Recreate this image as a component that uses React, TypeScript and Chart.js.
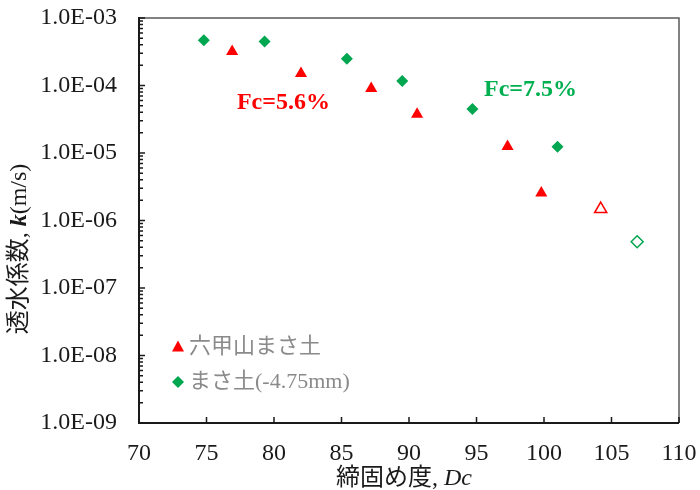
import React, { useEffect, useRef } from "react";
import { Chart, registerables } from "chart.js";

Chart.register(...registerables);

// ---- Data ----
const rokkoDc = [76.9, 82.0, 87.2, 90.6, 97.3, 99.8];
const rokkoK = [3.2e-4, 1.5e-4, 9.0e-5, 3.75e-5, 1.25e-5, 2.55e-6];
const rokkoOpenDc = [104.2];
const rokkoOpenK = [1.48e-6];
const masaDc = [74.8, 79.3, 85.4, 89.5, 94.7, 101.0];
const masaK = [4.7e-4, 4.5e-4, 2.5e-4, 1.17e-4, 4.5e-5, 1.24e-5];
const masaOpenDc = [106.9];
const masaOpenK = [4.85e-7];

const xTicks = [70, 75, 80, 85, 90, 95, 100, 105, 110];
const yDecades = [1e-9, 1e-8, 1e-7, 1e-6, 1e-5, 1e-4, 1e-3];

const legendLabels = ["六甲山まさ土", "まさ土(-4.75mm)"];
const annotations = [
  { text: "Fc=5.6%", x: 80.7, y: 5.5e-5, color: "#FF0000" },
  { text: "Fc=7.5%", x: 99.0, y: 8.6e-5, color: "#00B050" },
];

const RED = "#FF0000";
const GREEN = "#00A650";
const SERIF = "'Liberation Serif', 'Noto Sans CJK JP', serif";

const pts = (xs: number[], ys: number[]) => xs.map((x, i) => ({ x, y: ys[i] }));

const fmtE = (v: number) => {
  const e = Math.round(Math.log10(v));
  const sign = e < 0 ? "-" : "+";
  const a = Math.abs(e);
  return "1.0E" + sign + (a < 10 ? "0" + a : String(a));
};

function drawSegments(
  ctx: CanvasRenderingContext2D,
  segs: { t: string; f: string }[],
  cx: number,
  cy: number
) {
  let total = 0;
  const widths = segs.map((s) => {
    ctx.font = s.f;
    const w = ctx.measureText(s.t).width;
    total += w;
    return w;
  });
  let x = cx - total / 2;
  segs.forEach((s, i) => {
    ctx.font = s.f;
    ctx.fillText(s.t, x, cy);
    x += widths[i];
  });
}

const customPlugin = {
  id: "custom",
  afterDraw(chart: any) {
    const ctx: CanvasRenderingContext2D = chart.ctx;
    const { left, right, top, bottom } = chart.chartArea;
    const xs = chart.scales.x;
    const ys = chart.scales.y;
    ctx.save();

    // top & right frame (gray)
    ctx.strokeStyle = "#5a5a5a";
    ctx.lineWidth = 1.5;
    ctx.beginPath();
    ctx.moveTo(left, top);
    ctx.lineTo(right, top);
    ctx.lineTo(right, bottom);
    ctx.stroke();

    // axes (black)
    ctx.strokeStyle = "#1a1a1a";
    ctx.lineWidth = 2;
    ctx.beginPath();
    ctx.moveTo(left, top - 1);
    ctx.lineTo(left, bottom);
    ctx.lineTo(right, bottom);
    ctx.stroke();

    // x ticks inward
    ctx.lineWidth = 1.5;
    ctx.beginPath();
    xTicks.forEach((v) => {
      const px = xs.getPixelForValue(v);
      ctx.moveTo(px, bottom);
      ctx.lineTo(px, bottom - 6);
    });
    // y major & minor ticks inward
    for (let d = 0; d < yDecades.length; d++) {
      const base = yDecades[d];
      const py = ys.getPixelForValue(base);
      ctx.moveTo(left, py);
      ctx.lineTo(left + 6, py);
      if (d < yDecades.length - 1) {
        for (let m = 2; m <= 9; m++) {
          const my = ys.getPixelForValue(base * m);
          ctx.moveTo(left, my);
          ctx.lineTo(left + 4, my);
        }
      }
    }
    ctx.stroke();

    // annotations
    ctx.font = "bold 24px " + SERIF;
    ctx.textAlign = "center";
    ctx.textBaseline = "middle";
    annotations.forEach((a) => {
      ctx.fillStyle = a.color;
      ctx.fillText(a.text, xs.getPixelForValue(a.x), ys.getPixelForValue(a.y));
    });

    // legend
    const lx = left + 39;
    const ly1 = top + 329;
    const ly2 = top + 364;
    ctx.fillStyle = RED;
    ctx.beginPath();
    ctx.moveTo(lx, ly1 - 6.5);
    ctx.lineTo(lx + 6, ly1 + 4.5);
    ctx.lineTo(lx - 6, ly1 + 4.5);
    ctx.closePath();
    ctx.fill();
    ctx.fillStyle = GREEN;
    ctx.beginPath();
    ctx.moveTo(lx, ly2 - 6);
    ctx.lineTo(lx + 6, ly2);
    ctx.lineTo(lx, ly2 + 6);
    ctx.lineTo(lx - 6, ly2);
    ctx.closePath();
    ctx.fill();
    ctx.fillStyle = "#8a8a8a";
    ctx.font = "22px " + SERIF;
    ctx.textAlign = "left";
    ctx.fillText(legendLabels[0], lx + 11, ly1);
    ctx.fillText(legendLabels[1], lx + 11, ly2);

    // x title
    ctx.fillStyle = "#1a1a1a";
    ctx.textAlign = "left";
    ctx.textBaseline = "middle";
    drawSegments(
      ctx,
      [
        { t: "締固め度, ", f: "24px " + SERIF },
        { t: "Dc", f: "italic 24px " + SERIF },
      ],
      404,
      479
    );

    // y title
    ctx.save();
    ctx.translate(20, 249);
    ctx.rotate(-Math.PI / 2);
    drawSegments(
      ctx,
      [
        { t: "透水係数, ", f: "24px " + SERIF },
        { t: "k", f: "bold italic 24px " + SERIF },
        { t: "(m/s)", f: "24px " + SERIF },
      ],
      0,
      0
    );
    ctx.restore();

    ctx.restore();
  },
};

export default function App() {
  const ref = useRef<HTMLCanvasElement | null>(null);
  useEffect(() => {
    if (!ref.current) return;
    const chart = new Chart(ref.current, {
      type: "scatter",
      data: {
        datasets: [
          {
            label: legendLabels[0],
            data: pts(rokkoDc, rokkoK),
            pointStyle: "triangle",
            pointRadius: 7,
            backgroundColor: RED,
            borderColor: RED,
            borderWidth: 0,
          },
          {
            label: legendLabels[0] + " (open)",
            data: pts(rokkoOpenDc, rokkoOpenK),
            pointStyle: "triangle",
            pointRadius: 7,
            backgroundColor: "#FFFFFF",
            borderColor: RED,
            borderWidth: 1.5,
          },
          {
            label: legendLabels[1],
            data: pts(masaDc, masaK),
            pointStyle: "rectRot",
            pointRadius: 6,
            backgroundColor: GREEN,
            borderColor: GREEN,
            borderWidth: 0,
          },
          {
            label: legendLabels[1] + " (open)",
            data: pts(masaOpenDc, masaOpenK),
            pointStyle: "rectRot",
            pointRadius: 6,
            backgroundColor: "#FFFFFF",
            borderColor: GREEN,
            borderWidth: 1.5,
          },
        ],
      },
      options: {
        animation: false,
        responsive: true,
        maintainAspectRatio: false,
        layout: { padding: { left: 0, right: 21, top: 18, bottom: 0 } },
        plugins: {
          legend: { display: false },
          tooltip: { enabled: false },
        },
        scales: {
          x: {
            type: "linear",
            min: 70,
            max: 110,
            afterBuildTicks: (s: any) => {
              s.ticks = xTicks.map((v) => ({ value: v }));
            },
            afterFit: (s: any) => {
              s.height = 67;
              s.paddingLeft = 0;
              s.paddingRight = 0;
              s.paddingTop = 0;
              s.paddingBottom = 0;
            },
            grid: { display: false, drawTicks: false },
            border: { display: false },
            ticks: {
              color: "#1a1a1a",
              font: { family: SERIF, size: 24 },
              padding: 16,
              maxRotation: 0,
              autoSkip: false,
              callback: (v: any) => String(v),
            },
          },
          y: {
            type: "logarithmic",
            min: 1e-9,
            max: 1e-3,
            afterBuildTicks: (s: any) => {
              s.ticks = yDecades.map((v) => ({ value: v }));
            },
            afterFit: (s: any) => {
              s.width = 139;
              s.paddingLeft = 0;
              s.paddingRight = 0;
              s.paddingTop = 0;
              s.paddingBottom = 0;
            },
            grid: { display: false, drawTicks: false },
            border: { display: false },
            ticks: {
              color: "#1a1a1a",
              font: { family: SERIF, size: 24 },
              padding: 22,
              autoSkip: false,
              callback: (v: any) => fmtE(Number(v)),
            },
          },
        },
      },
      plugins: [customPlugin],
    });
    return () => chart.destroy();
  }, []);
  return (
    <div style={{ position: "absolute", left: 0, top: 0, width: 700, height: 490 }}>
      <canvas ref={ref} />
    </div>
  );
}
